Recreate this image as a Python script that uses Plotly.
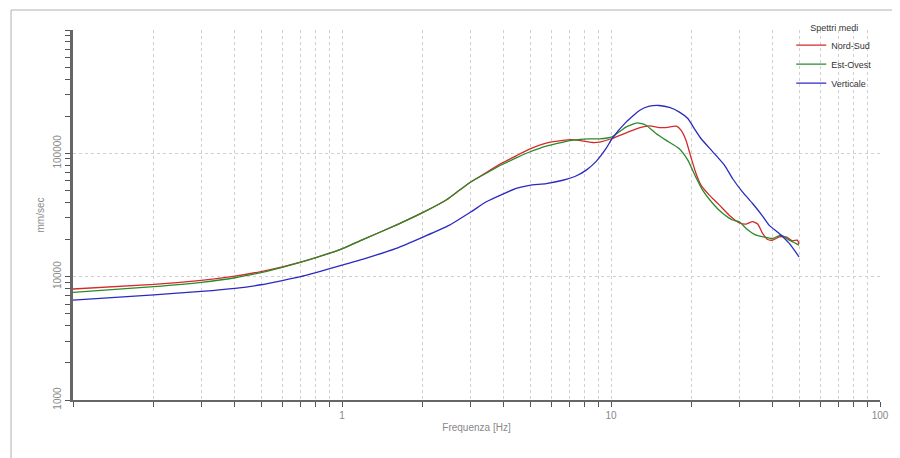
import plotly.graph_objects as go

# Frequencies [Hz] and amplitudes [mm/sec]
ns_freq = [0.1, 0.2, 0.3, 0.4, 0.5, 0.6, 0.7, 0.8, 0.9, 1.0, 1.2, 1.59, 2.01, 2.44, 2.74, 3.02,
           3.44, 3.96, 4.44, 4.98, 5.74, 6.62, 7.21, 8.55, 9.06, 10.1, 11.4, 12.8, 13.9, 15.1,
           16.0, 17.5, 18.2, 19.0, 19.8, 20.7, 21.6, 23.2, 25.3, 27.5, 30.0, 31.8, 33.6, 35.1,
           36.6, 38.2, 39.9, 42.2, 44.7, 47.3, 49.3, 50.0]
ns_vals = [7940, 8650, 9330, 10100, 11000, 12000, 13100, 14300, 15500, 16800, 20050, 26180,
           33340, 41800, 50400, 58800, 70000, 84000, 95500, 108000, 121000, 127500, 129000,
           122400, 123300, 131900, 146600, 161900, 167100, 161900, 161900, 166000, 154100,
           127900, 93800, 68700, 55200, 45800, 38000, 31500, 27300, 26700, 27900, 26700,
           22400, 20000, 19800, 21000, 21000, 19500, 19800, 18400]

eo_freq = [0.1, 0.2, 0.3, 0.4, 0.5, 0.6, 0.7, 0.8, 0.9, 1.0, 1.2, 1.59, 2.01, 2.44, 2.74, 3.02,
           3.44, 3.96, 4.44, 4.98, 5.74, 6.62, 7.21, 8.3, 9.06, 10.1, 11.4, 12.5, 13.5, 14.7,
           16.0, 17.9, 19.3, 20.7, 21.9, 23.9, 26.0, 28.3, 30.0, 31.8, 34.6, 37.7, 39.9, 42.9,
           46.0, 48.6, 50.0]
eo_vals = [7470, 8300, 9000, 9800, 10800, 11900, 13050, 14300, 15500, 16800, 20050, 26180,
           33340, 41800, 50400, 58800, 69000, 81500, 92000, 102500, 114500, 123000, 127900,
           131200, 131200, 136200, 164000, 176600, 169000, 144800, 127900, 109500, 88100,
           63700, 50300, 39200, 32600, 28800, 27900, 24600, 21700, 20800, 20400, 21700,
           19800, 18600, 18000]

ve_freq = [0.1, 0.2, 0.3, 0.4, 0.5, 0.6, 0.7, 0.8, 0.9, 1.0, 1.2, 1.59, 2.01, 2.51, 3.02, 3.44,
           3.96, 4.44, 4.98, 5.74, 6.62, 7.41, 8.09, 8.81, 9.6, 10.1, 11.4, 12.8, 13.9, 15.1,
           16.5, 17.9, 19.3, 20.4, 21.6, 23.9, 26.4, 28.3, 30.8, 33.6, 36.6, 38.7, 42.2, 46.0,
           50.0]
ve_vals = [6450, 7130, 7600, 8050, 8600, 9300, 10000, 10800, 11600, 12400, 13900, 16950,
           21050, 26180, 33580, 40460, 46700, 51960, 55000, 56800, 60500, 65500, 73100, 86000,
           110000, 131900, 180000, 223700, 241000, 244200, 235400, 217000, 191600, 158900,
           131900, 102800, 80200, 62500, 48700, 39200, 31000, 26200, 22400, 18600, 14500]

x_tickvals = [1, 10, 100]
x_ticktext = ["1", "10", "100"]
y_tickvals = [1000, 10000, 100000]
y_ticktext = ["1000", "10000", "100000"]

series = [
    ("Nord-Sud", ns_freq, ns_vals, "#d42a2a"),
    ("Est-Ovest", eo_freq, eo_vals, "#2a8a2a"),
    ("Verticale", ve_freq, ve_vals, "#2a2ac0"),
]

fig = go.Figure()
for name, fx, fy, col in series:
    fig.add_trace(go.Scatter(x=fx, y=fy, mode="lines", name=name,
                             line=dict(color=col, width=1.3, shape="spline", smoothing=0.5)))

grey = "#888888"
fig.update_layout(
    width=892, height=450,
    margin=dict(l=65, r=20, t=22, b=58, autoexpand=False),
    paper_bgcolor="white", plot_bgcolor="white",
    font=dict(family="Arial, Liberation Sans, sans-serif", size=10, color=grey),
    showlegend=True,
    legend=dict(
        title=dict(text="Spettri medi", side="top center", font=dict(size=9, color="#333333")),
        x=0.89, y=1.03, xanchor="left", yanchor="top",
        font=dict(size=9, color="#333333"),
        bgcolor="rgba(255,255,255,0)",
        itemwidth=30, tracegroupgap=0,
    ),
    xaxis=dict(
        type="log", range=[-1, 2], automargin=False,
        tickvals=x_tickvals, ticktext=x_ticktext,
        ticks="outside", ticklen=5, tickcolor="#555555",
        showline=True, linecolor="#666666", linewidth=2,
        showgrid=True, gridcolor="#d0d0d0", griddash="dot", gridwidth=1,
        minor=dict(dtick="D1", ticks="outside", ticklen=5, tickcolor="#555555",
                   showgrid=True, gridcolor="#d0d0d0", griddash="dot"),
        title=dict(text="Frequenza [Hz]", font=dict(size=10, color=grey), standoff=4),
        zeroline=False,
        tickfont=dict(size=10, color=grey),
    ),
    yaxis=dict(
        type="log", range=[3, 6], automargin=False,
        tickvals=y_tickvals, ticktext=y_ticktext, tickangle=-90,
        ticks="outside", ticklen=5, tickcolor="#555555",
        showline=True, linecolor="#666666", linewidth=3,
        showgrid=True, gridcolor="#d0d0d0", griddash="dot", gridwidth=1,
        minor=dict(dtick="D1", ticks="outside", ticklen=5, tickcolor="#555555",
                   showgrid=False),
        title=dict(text="mm/sec", font=dict(size=10, color=grey), standoff=6),
        zeroline=False,
        tickfont=dict(size=10, color=grey),
    ),
    shapes=[dict(type="rect", xref="paper", yref="paper",
                 x0=-0.0768, x1=1.05, y0=-0.2, y1=1.054,
                 line=dict(color="#b0b0b0", width=1), fillcolor="rgba(0,0,0,0)", layer="below")],
)

fig.write_html("out.html")
